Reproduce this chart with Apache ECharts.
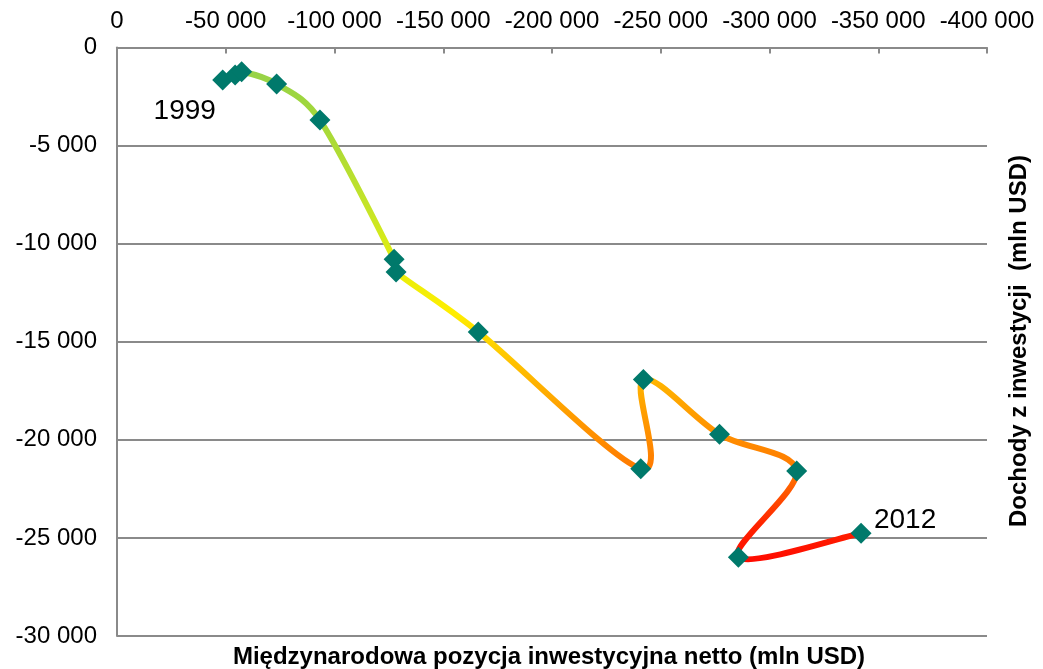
<!DOCTYPE html>
<html>
<head>
<meta charset="utf-8">
<script src="https://cdn.jsdelivr.net/npm/echarts@6/dist/echarts.min.js"></script>
<style>
html,body{margin:0;padding:0;background:#fff;}
#chart{width:1043px;height:669px;}
</style>
</head>
<body>
<div id="chart"></div>
<script>
// Data
const years = [1999, 2000, 2001, 2002, 2003, 2004, 2005, 2006, 2007, 2008, 2009, 2010, 2011, 2012];
const niip = [-48600, -54300, -57300, -73400, -93300, -127400, -128300, -166100, -240800, -242000, -277000, -312500, -285700, -342100];
const income = [-1660, -1400, -1230, -1860, -3700, -10790, -11440, -14500, -21470, -16930, -19720, -21590, -25980, -24760];
const labelledYears = [1999, 2012];
const xAxisTitle = 'Międzynarodowa pozycja inwestycyjna netto (mln USD)';
const yAxisTitle = 'Dochody z inwestycji  (mln USD)';

const FONT = '"Liberation Sans", Arial, sans-serif';
function fmt(v) {
  const s = String(Math.abs(v)).replace(/\B(?=(\d{3})+(?!\d))/g, ' ');
  return (v < 0 ? '-' : '') + s;
}

const points = years.map((y, i) => [niip[i], income[i], y]);
const n = points.length;

// colour gradient along the value axis (top = green, bottom = red)
const gradTop = 0, gradBottom = -27000;
const gradStops = [
  { offset: 0.00, color: '#92d050' },
  { offset: 0.10, color: '#9ed63e' },
  { offset: 0.20, color: '#b0dc34' },
  { offset: 0.30, color: '#c4e428' },
  { offset: 0.40, color: '#e0ee10' },
  { offset: 0.50, color: '#ffee00' },
  { offset: 0.60, color: '#ffbf00' },
  { offset: 0.70, color: '#ff9a00' },
  { offset: 0.80, color: '#ff7800' },
  { offset: 0.90, color: '#ff2400' },
  { offset: 1.00, color: '#ff0000' }
];

const markerData = points.map((p, i) => {
  const item = { value: p };
  if (labelledYears.indexOf(p[2]) >= 0) {
    const first = i === 0;
    item.label = {
      show: true,
      formatter: String(p[2]),
      position: 'inside',
      offset: first ? [-38, 31] : [44, -13],
      fontSize: 28,
      fontFamily: FONT,
      color: '#000'
    };
  }
  return item;
});

// segments of the smoothed line: one item per pair of consecutive points
const segData = points.slice(0, n - 1).map((p, i) => [p[0], p[1], points[i + 1][0], points[i + 1][1]]);

function limitTan(t, len) {
  const l = Math.hypot(t[0], t[1]);
  const maxL = len / 2;
  if (l > maxL && l > 0) return [t[0] * maxL / l, t[1] * maxL / l];
  return t;
}

function renderSeg(params, api) {
  const i = params.dataIndex;
  const P = (k) => {
    const kk = Math.max(0, Math.min(n - 1, k));
    return api.coord([points[kk][0], points[kk][1]]);
  };
  const p0 = P(i - 1), p1 = P(i), p2 = P(i + 1), p3 = P(i + 2);
  const f = 1 / 6;
  const segLen = Math.hypot(p2[0] - p1[0], p2[1] - p1[1]);
  const t1 = limitTan([(p2[0] - p0[0]) * f, (p2[1] - p0[1]) * f], segLen);
  const t2 = limitTan([(p3[0] - p1[0]) * f, (p3[1] - p1[1]) * f], segLen);
  const yTop = api.coord([0, gradTop])[1];
  const yBot = api.coord([0, gradBottom])[1];
  return {
    type: 'bezierCurve',
    shape: {
      x1: p1[0], y1: p1[1], x2: p2[0], y2: p2[1],
      cpx1: p1[0] + t1[0], cpy1: p1[1] + t1[1],
      cpx2: p2[0] - t2[0], cpy2: p2[1] - t2[1]
    },
    style: {
      fill: null,
      stroke: new echarts.graphic.LinearGradient(0, yTop, 0, yBot, gradStops, true),
      lineWidth: 6,
      lineCap: 'round'
    }
  };
}

const chart = echarts.init(document.getElementById('chart'), null, { renderer: 'canvas' });
const gray = '#8a8a8a';
chart.setOption({
  animation: false,
  backgroundColor: '#fff',
  grid: { left: 117, right: 56, top: 47.5, bottom: 33, containLabel: false },
  xAxis: {
    type: 'value',
    position: 'top',
    inverse: true,
    min: -400000,
    max: 0,
    interval: 50000,
    axisLine: { show: true, onZero: false, lineStyle: { color: gray, width: 2 } },
    axisTick: { show: true, inside: true, length: 6, lineStyle: { color: gray, width: 2 } },
    axisLabel: { formatter: fmt, fontSize: 24, fontFamily: FONT, color: '#000', margin: 14 },
    splitLine: { show: false }
  },
  yAxis: {
    type: 'value',
    min: -30000,
    max: 0,
    interval: 5000,
    axisLine: { show: true, onZero: false, lineStyle: { color: gray, width: 2 } },
    axisTick: { show: false },
    axisLabel: { formatter: fmt, fontSize: 24, fontFamily: FONT, color: '#000', margin: 20 },
    splitLine: { show: true, lineStyle: { color: gray, width: 2 } }
  },
  series: [
    {
      type: 'custom',
      data: segData,
      encode: { x: [0, 2], y: [1, 3] },
      renderItem: renderSeg,
      clip: false,
      z: 2,
      silent: true
    },
    {
      type: 'scatter',
      data: markerData,
      symbol: 'path://M0,-10L10,0L0,10L-10,0Z',
      symbolSize: 21,
      symbolKeepAspect: true,
      itemStyle: { color: '#00796b', opacity: 1 },
      z: 3
    }
  ],
  graphic: [
    {
      type: 'text',
      x: 549, y: 657,
      style: { text: xAxisTitle, font: 'bold 24px ' + FONT, fill: '#000', textAlign: 'center', textVerticalAlign: 'middle' }
    },
    {
      type: 'text',
      x: 1019, y: 341,
      rotation: Math.PI / 2,
      style: { text: yAxisTitle, font: 'bold 24px ' + FONT, fill: '#000', textAlign: 'center', textVerticalAlign: 'middle' }
    }
  ]
});
</script>
</body>
</html>
